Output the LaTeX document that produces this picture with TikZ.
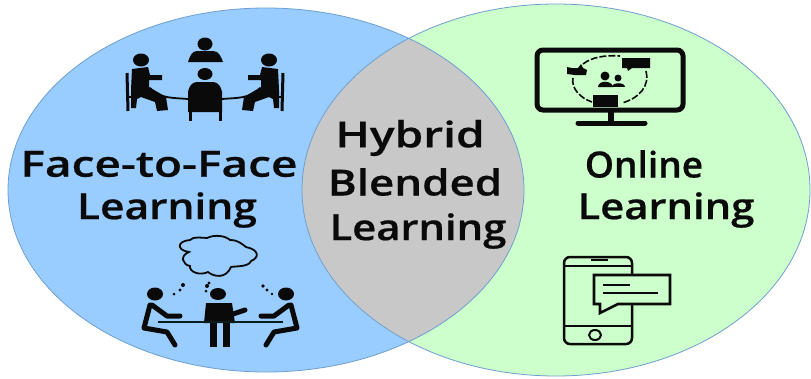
\documentclass[tikz,border=0pt]{standalone}
\usepackage{fontspec}
\setmainfont{Open Sans}[BoldFont={Open Sans Semibold},BoldFeatures={FakeBold=0.5}]
\definecolor{lft}{HTML}{99CCFF}
\definecolor{rgt}{HTML}{CCFFCC}
\definecolor{mid}{HTML}{C8C8C8}
\definecolor{edge}{HTML}{6F9FD0}
\definecolor{ink}{HTML}{0A0A0A}
\tikzset{
  lbl/.style={font=\fontsize{36}{39}\selectfont\bfseries, text=ink, inner sep=0pt, transform shape},
  heavy ink/.style={draw=ink, line width=5pt, fill=none, line cap=round, line join=round},
}
\begin{document}
\begin{tikzpicture}[x=1pt,y=-1pt]
\useasboundingbox (0,0) rectangle (811,378);
\fill[white] (0,0) rectangle (811,378);
\def\LeftE{(266,190) ellipse (258 and 182)}
\def\RightE{(556,190) ellipse (254 and 186)}
\fill[lft] \LeftE;
\fill[rgt] \RightE;
\begin{scope}
  \clip \LeftE;
  \fill[mid] \RightE;
\end{scope}
\draw[edge, line width=.8pt] \LeftE;
\draw[edge, line width=.8pt] \RightE;

\node[lbl,xscale=1.28] (ftfa) at (159,164) {Face-to-Face};
\node[lbl,xscale=1.18] (ftfb) at (167,210) {Learning};
\node[lbl,xscale=1.28] (hbla) at (410,138) {Hybrid};
\node[lbl,xscale=1.22] (hblb) at (415,182) {Blended};
\node[lbl,xscale=1.16] (hblc) at (418,231) {Learning};
\node[lbl,xscale=1.03] (onla) at (644,164) {Online};
\node[lbl,xscale=1.16] (onlb) at (666,210) {Learning};

% meeting icon
\fill[ink] (205,44) ellipse (7.5 and 6.5);
\fill[ink] (188,62) to[out=70,in=180] (197,51) -- (213,51) to[out=0,in=110] (223,62) -- cycle;
\fill[ink] (205,74) ellipse (7.5 and 6);
\fill[ink] (188,92) to[out=80,in=180] (197,82) -- (213,82) to[out=0,in=100] (222,92) -- (222,112) -- (188,112) -- cycle;
\draw[ink,line width=3pt] (190,110) -- (190,121) (220,110) -- (220,121);
\draw[ink,line width=1.8pt] (150,88) to[out=-45,in=175] (188,99) (260,88) to[out=-135,in=5] (222,99);
\foreach \s/\c in {1/141,-1/269}{
\begin{scope}[shift={(\c,0)},x=\s pt]
  \fill[ink] (0,60) ellipse (8 and 6.5);
  \fill[ink] (-9,69) -- (7,67) -- (9,75) -- (21,75) -- (21,80) -- (8,80) -- (8,87) -- (25,97) -- (27,110) -- (16,111) -- (14,102) -- (0,97) -- (-4,99) -- (-5,108) -- (-10,108) -- (-10,90) -- cycle;
  \draw[ink,line width=3pt] (-14,73) -- (-13,111);
  \draw[ink,line width=2pt] (-14,97) -- (-8,97);
\end{scope}}

% thought cloud
\draw[ink,line width=1.8pt,fill=none]
  (189,252) .. controls (176,250) and (177,241) .. (190,240)
  .. controls (193,236) and (203,238) .. (207,238)
  .. controls (215,234) and (226,236) .. (230,240)
  .. controls (238,240) and (242,244) .. (246,247)
  .. controls (260,250) and (259,258) .. (251,261)
  .. controls (249,267) and (236,266) .. (231,267)
  .. controls (226,279) and (214,277) .. (208,272)
  .. controls (200,276) and (189,272) .. (190,266)
  .. controls (183,265) and (179,256) .. (189,252) -- cycle;
% thought dots
\fill[ink] (174,294) circle (1.5) (180,290) circle (1.7) (183,285) circle (2);
\fill[ink] (206,291) circle (1.5) (207,286) circle (2) (209,283) circle (1.7);
\fill[ink] (263,286) circle (1.8) (267,290) circle (1.7) (272,294) circle (1.3);
% people at table
\fill[ink] (155,294) ellipse (8 and 6.5);
\fill[ink] (218,294) ellipse (8 and 6);
\fill[ink] (286,294) ellipse (8 and 6.5);
\draw[heavy ink] (150,305) -- (144,328) -- (167,332) -- (175,345);
\draw[heavy ink] (152,305) -- (167,316) -- (180,316);
\draw[heavy ink] (291,305) -- (297,328) -- (274,332) -- (266,345);
\draw[heavy ink] (289,305) -- (274,316) -- (261,316);
\fill[ink] (206,303) -- (232,303) -- (235,323) -- (204,323) -- cycle;
\draw[ink,line width=5pt,line cap=round] (233,314) -- (245,310);
\draw[ink,line width=7pt] (213,323) -- (213,347) (226,323) -- (226,347);
\draw[ink!85!teal,line width=2.5pt] (158,322) -- (283,322);

% monitor
\draw[ink,line width=5pt,rounded corners=6pt] (537,50) rectangle (683,110);
\draw[ink,line width=6pt] (611,110) -- (611,122);
\draw[ink,line width=5pt,line cap=round] (578,123) -- (645,123);
\draw[ink,line width=1.6pt,dash pattern=on 7pt off 2pt] (583,64) .. controls (592,57) and (605,55) .. (620,56);
\draw[ink,line width=1.6pt,dash pattern=on 7pt off 2pt] (573,78) .. controls (571,88) and (580,98) .. (592,102);
\draw[ink,line width=1.6pt,dash pattern=on 7pt off 2pt] (646,71) .. controls (650,85) and (640,98) .. (622,103);
\fill[ink] (622,58) -- (650,58) -- (650,68) -- (632,68) -- (628,71) -- (627,68) -- (622,68) -- cycle;
\fill[ink] (567,67) -- (572,68) -- (578,68) -- (581,64) -- (583,68) -- (587,70) -- (586,75) -- (575,75) -- (567,74) -- cycle;
\fill[ink] (593,95) -- (618,95) -- (618,107) -- (593,107) -- cycle;
\fill[ink] (605,76) circle (4.5) (618,78) circle (3.5);
\fill[ink] (598,87) .. controls (598,80) and (612,80) .. (613,87) -- cycle;
\fill[ink] (612,87) .. controls (612,82) and (625,82) .. (625,87) -- cycle;

% phone
\draw[ink,line width=2.5pt,rounded corners=6pt] (564,257) rectangle (632,344);
\draw[ink,line width=2pt] (564,266) -- (632,266) (564,326) -- (632,326);
\draw[ink,line width=2.5pt] (591,260) -- (608,260);
\draw[ink,line width=2pt] (595,335) ellipse (6 and 5);
\fill[rgt,draw=ink,line width=2.6pt] (594,275) -- (670,275) -- (670,304) -- (618,304) -- (600,313) -- (600,304) -- (594,304) -- cycle;
\draw[ink,line width=1.6pt] (603,285) -- (630,285) (603,293) -- (658,293);
\end{tikzpicture}
\end{document}
